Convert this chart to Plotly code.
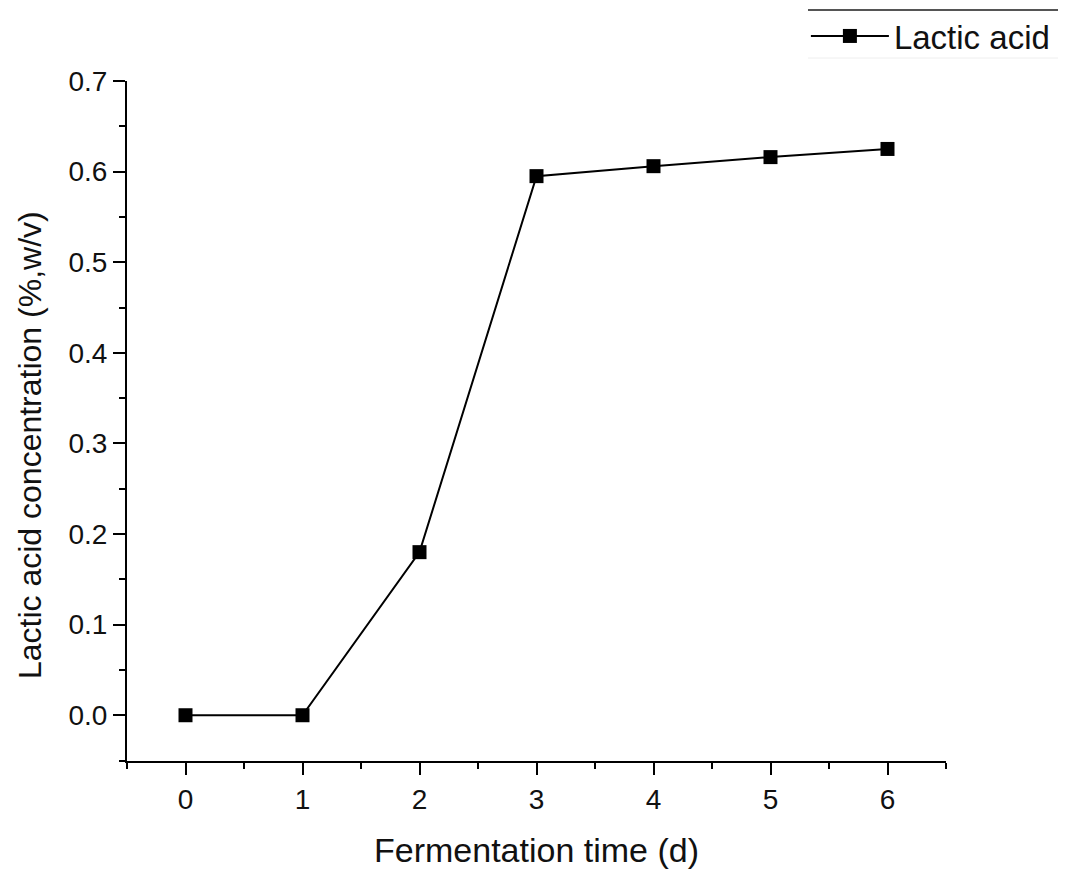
import plotly.graph_objects as go

days = [0, 1, 2, 3, 4, 5, 6]
lactic_acid = [0.0, 0.0, 0.18, 0.595, 0.606, 0.616, 0.625]
series_name = "Lactic acid"
x_title = "Fermentation time (d)"
y_title = "Lactic acid concentration (%,w/v)"

FONT = "Liberation Sans, Arial, sans-serif"

fig = go.Figure()
fig.add_trace(go.Scatter(
    x=days, y=lactic_acid, mode="lines+markers", name=series_name,
    line=dict(color="black", width=2),
    marker=dict(symbol="square", size=14, color="black"),
))

axis_common = dict(
    showline=True, linecolor="black", linewidth=2,
    ticks="outside", ticklen=12, tickwidth=2, tickcolor="black",
    showgrid=False, zeroline=False, mirror=False,
    tickfont=dict(family=FONT, size=28, color="#111111"),
    automargin=False,
)

fig.update_xaxes(
    range=[-0.5, 6.5], tickmode="linear", tick0=0, dtick=1,
    minor=dict(ticks="outside", ticklen=6, tickwidth=2, tickcolor="black", dtick=0.5, tick0=0.5),
    title=dict(text=x_title, font=dict(family=FONT, size=34, color="#111111"), standoff=25),
    **axis_common,
)
fig.update_yaxes(
    range=[-0.0505, 0.7], tickmode="linear", tick0=0, dtick=0.1, tickformat=".1f",
    minor=dict(ticks="outside", ticklen=6, tickwidth=2, tickcolor="black", dtick=0.05, tick0=0.05),
    **axis_common,
)

fig.update_layout(
    width=1066, height=876,
    margin=dict(l=119, r=128, t=73, b=123, autoexpand=False),
    paper_bgcolor="white", plot_bgcolor="white",
    showlegend=True,
    legend=dict(
        x=0.7485, xanchor="left", y=1.0, yanchor="top",
        xref="container", yref="container",
        font=dict(family=FONT, size=33, color="#111111"),
        bgcolor="rgba(0,0,0,0)", borderwidth=0, itemwidth=78,
    ),
)

fig.add_annotation(
    text=y_title, xref="paper", yref="paper",
    x=-0.1184, y=0.4647, xanchor="center", yanchor="middle",
    textangle=-90, showarrow=False,
    font=dict(family=FONT, size=32, color="#111111"),
)

fig.add_shape(type="line", xref="paper", yref="paper",
              x0=0.8315, x1=1.1416, y0=1.1044, y1=1.1044,
              line=dict(color="#555555", width=2))
fig.add_shape(type="line", xref="paper", yref="paper",
              x0=0.8315, x1=1.1416, y0=1.0338, y1=1.0338,
              line=dict(color="#eeeeee", width=1))

fig.write_html("out.html")
